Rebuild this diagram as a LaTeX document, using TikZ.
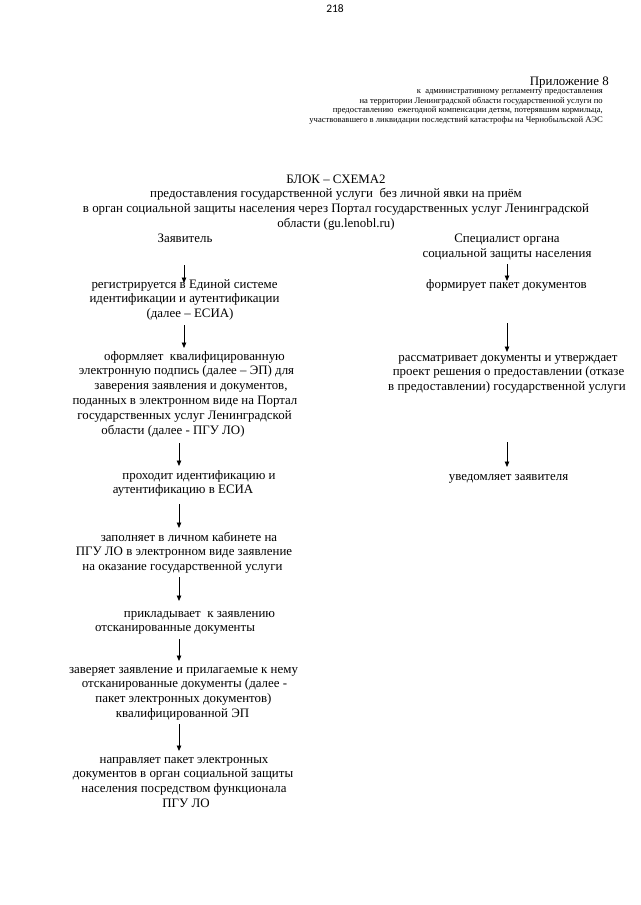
\documentclass[tikz,border=0pt]{standalone}
\usepackage{fontspec}
\setmainfont{Liberation Serif}
\newfontfamily\pgnumfont{Carlito}
\usetikzlibrary{arrows.meta}
\newcommand\mainfs{\fontsize{12.9}{14.8}\selectfont}
\newcommand\smallfs{\fontsize{8.6}{9.7}\selectfont}
\begin{document}
\begin{tikzpicture}[x=1pt,y=-1pt,
  txt/.style={font=\mainfs, anchor=base, inner sep=0pt},
  sml/.style={font=\smallfs, anchor=base east, inner sep=0pt},
  arr/.style={line width=0.8pt, -{Triangle[length=5.5pt,width=4.5pt]}}]
\path[use as bounding box, fill=white] (0,0) rectangle (640,905);
% header
\node[font=\pgnumfont\fontsize{11.5}{13}\selectfont, anchor=base, inner sep=0pt] (pg) at (335,12) {218};
\node[txt, anchor=base east] (app) at (609,85) {Приложение 8};
\node[sml] (h1) at (603,93.5) {к\ \ административному регламенту предоставления};
\node[sml] (h2) at (603,103) {на территории Ленинградской области государственной услуги по};
\node[sml] (h3) at (603,112.5) {предоставлению\ \ ежегодной компенсации детям, потерявшим кормильца,};
\node[sml] (h4) at (603,122) {участвовавшего в ликвидации последствий катастрофы на Чернобыльской АЭС};
% title
\node[txt] (t1) at (336,183) {БЛОК – СХЕМА2};
\node[txt] (t2) at (336,197.8) {предоставления государственной услуги\ \ без личной явки на приём};
\node[txt] (t3) at (336,212.6) {в орган социальной защиты населения через Портал государственных услуг Ленинградской};
\node[txt] (t4) at (336,227.4) {области (gu.lenobl.ru)};
\node[txt] (zay) at (185,242.2) {Заявитель};
\node[txt] (spa) at (507,242.2) {Специалист органа};
\node[txt] (spb) at (507,257) {социальной защиты населения};
% left column
\node[txt] (l1a) at (184.5,288) {регистрируется в Единой системе};
\node[txt] (l1b) at (184.5,302.8) {идентификации и аутентификации};
\node[txt] (l1c) at (190,317.6) {(далее – ЕСИА)};
\node[txt] (l2a) at (194.5,360) {оформляет\ \ квалифицированную};
\node[txt] (l2b) at (186.5,374.8) {электронную подпись (далее – ЭП) для};
\node[txt] (l2c) at (191,389.6) {заверения заявления и документов,};
\node[txt] (l2d) at (185,404.4) {поданных в электронном виде на Портал};
\node[txt] (l2e) at (184.5,419.2) {государственных услуг Ленинградской};
\node[txt] (l2f) at (173,434) {области (далее - ПГУ ЛО)};
\node[txt] (l3a) at (199,479) {проходит идентификацию и};
\node[txt] (l3b) at (183,493.8) {аутентификацию в ЕСИА};
\node[txt] (l4a) at (189,541) {заполняет в личном кабинете на};
\node[txt] (l4b) at (184,555.8) {ПГУ ЛО в электронном виде заявление};
\node[txt] (l4c) at (182.5,570.6) {на оказание государственной услуги};
\node[txt] (l5a) at (199.5,617) {прикладывает\ \ к заявлению};
\node[txt] (l5b) at (175,631.8) {отсканированные документы};
\node[txt] (l6a) at (183.5,673) {заверяет заявление и прилагаемые к нему};
\node[txt] (l6b) at (184.5,687.8) {отсканированные документы (далее -};
\node[txt] (l6c) at (183.5,702.6) {пакет электронных документов)};
\node[txt] (l6d) at (182.5,717.4) {квалифицированной ЭП};
\node[txt] (l7a) at (184,763) {направляет пакет электронных};
\node[txt] (l7b) at (183,777.8) {документов в орган социальной защиты};
\node[txt] (l7c) at (184,792.6) {населения посредством функционала};
\node[txt] (l7d) at (186,807.4) {ПГУ ЛО};
% right column
\node[txt] (r1a) at (506.5,288) {формирует пакет документов};
\node[txt] (r2a) at (508,361) {рассматривает документы и утверждает};
\node[txt] (r2b) at (508.5,375.8) {проект решения о предоставлении (отказе};
\node[txt] (r2c) at (507,390.6) {в предоставлении) государственной услуги};
\node[txt] (r3a) at (508.5,480) {уведомляет заявителя};
% arrow ends
\coordinate (a1s) at (184,265); \coordinate (a1e) at (184,283);
\coordinate (a2s) at (184,325); \coordinate (a2e) at (184,348);
\coordinate (a3s) at (179,443); \coordinate (a3e) at (179,466);
\coordinate (a4s) at (179,504); \coordinate (a4e) at (179,528);
\coordinate (a5s) at (179,577); \coordinate (a5e) at (179,601);
\coordinate (a6s) at (179,639); \coordinate (a6e) at (179,661);
\coordinate (a7s) at (179,724); \coordinate (a7e) at (179,751);
\coordinate (b1s) at (507,264); \coordinate (b1e) at (507,281);
\coordinate (b2s) at (507,323); \coordinate (b2e) at (507,352);
\coordinate (b3s) at (507,442); \coordinate (b3e) at (507,467);
\draw[arr] (a1s) -- (a1e);
\draw[arr] (a2s) -- (a2e);
\draw[arr] (a3s) -- (a3e);
\draw[arr] (a4s) -- (a4e);
\draw[arr] (a5s) -- (a5e);
\draw[arr] (a6s) -- (a6e);
\draw[arr] (a7s) -- (a7e);
\draw[arr] (b1s) -- (b1e);
\draw[arr] (b2s) -- (b2e);
\draw[arr] (b3s) -- (b3e);
\end{tikzpicture}
\end{document}
